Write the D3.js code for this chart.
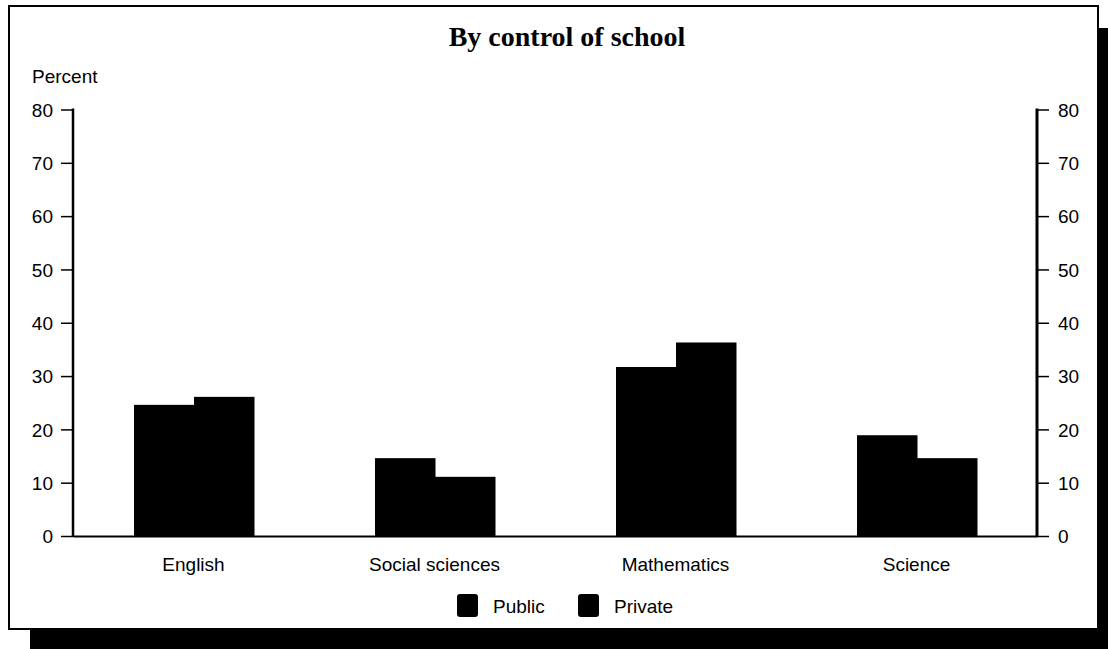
<!DOCTYPE html>
<html lang="en">
<head>
  <meta charset="UTF-8">
  <title>By control of school</title>
  <script src="https://d3js.org/d3.v7.min.js"></script>
  <style>
    body { margin: 0; background: white; }
    svg { display: block; }
    .tick text, .lab { font-family: "Liberation Sans", Arial, sans-serif; font-size: 19px; fill: black; }
    .title { font-family: "Liberation Serif", "Times New Roman", serif; font-size: 28px; font-weight: bold; }
  </style>
</head>
<body>
  <svg width="1108" height="649"></svg>
  <script>
    const subjects = ["English", "Social sciences", "Mathematics", "Science"];
    const seriesNames = ["Public", "Private"];
    const publicVals = [24.6, 14.6, 31.7, 18.9];
    const privateVals = [26.1, 11.1, 36.3, 14.6];
    const yTicks = [0, 10, 20, 30, 40, 50, 60, 70, 80];

    const svg = d3.select("svg");

    // frame with drop shadow
    svg.append("rect").attr("x", 30).attr("y", 28).attr("width", 1100).attr("height", 640).attr("fill", "black");
    svg.append("rect").attr("x", 9).attr("y", 6).attr("width", 1089).attr("height", 623)
      .attr("fill", "white").attr("stroke", "black").attr("stroke-width", 2);

    svg.append("text").attr("class", "title").attr("x", 567).attr("y", 46)
      .attr("text-anchor", "middle").text("By control of school");

    svg.append("text").attr("class", "lab").attr("x", 32).attr("y", 83).text("Percent");

    const x0 = d3.scaleBand().domain(subjects).range([73, 1037]);
    const x1 = d3.scaleBand().domain(seriesNames).range([-60, 60]);
    const y = d3.scaleLinear().domain([0, 80]).range([536, 109.5]);

    const rows = subjects.map((s, i) => ({ subject: s, values: [publicVals[i], privateVals[i]] }));

    // bars
    const g = svg.append("g").selectAll("g").data(rows).join("g")
      .attr("transform", d => `translate(${Math.round(x0(d.subject) + x0.bandwidth() / 2)},0)`);
    g.selectAll("rect").data(d => d.values.map((v, i) => ({ name: seriesNames[i], v })))
      .join("rect")
      .attr("x", d => x1(d.name))
      .attr("y", d => y(d.v))
      .attr("width", x1.bandwidth() + 0.5)
      .attr("height", d => y(0) - y(d.v))
      .attr("fill", "black");

    // axes
    const left = svg.append("g").attr("transform", "translate(73,0)")
      .call(d3.axisLeft(y).tickValues(yTicks).tickSize(12).tickPadding(8));
    const right = svg.append("g").attr("transform", "translate(1037,0)")
      .call(d3.axisRight(y).tickValues(yTicks).tickSize(12).tickPadding(9));
    [left, right].forEach(a => {
      a.select(".domain").remove();
      a.selectAll(".tick line").attr("stroke", "black").attr("stroke-width", 1.5);
      a.selectAll(".tick text").attr("dy", "0.36em");
      a.attr("font-size", null).attr("font-family", null);
    });
    svg.append("line").attr("x1", 73).attr("x2", 73).attr("y1", y(80) - 1).attr("y2", y(0) + 1)
      .attr("stroke", "black").attr("stroke-width", 2.5);
    svg.append("line").attr("x1", 1037).attr("x2", 1037).attr("y1", y(80) - 1).attr("y2", y(0) + 1)
      .attr("stroke", "black").attr("stroke-width", 3);

    const bottom = svg.append("g").attr("transform", `translate(0,${y(0)})`)
      .call(d3.axisBottom(x0).tickSize(0).tickPadding(22));
    bottom.select(".domain").attr("stroke", "black").attr("stroke-width", 2);
    bottom.attr("font-size", null).attr("font-family", null);

    // legend
    const legendX = [457, 578];
    const leg = svg.append("g").selectAll("g").data(seriesNames).join("g")
      .attr("transform", (d, i) => `translate(${legendX[i]},594)`);
    leg.append("rect").attr("width", 21).attr("height", 23).attr("rx", 3).attr("fill", "black");
    leg.append("text").attr("class", "lab").attr("x", 36).attr("y", 19).text(d => d);
  </script>
</body>
</html>
